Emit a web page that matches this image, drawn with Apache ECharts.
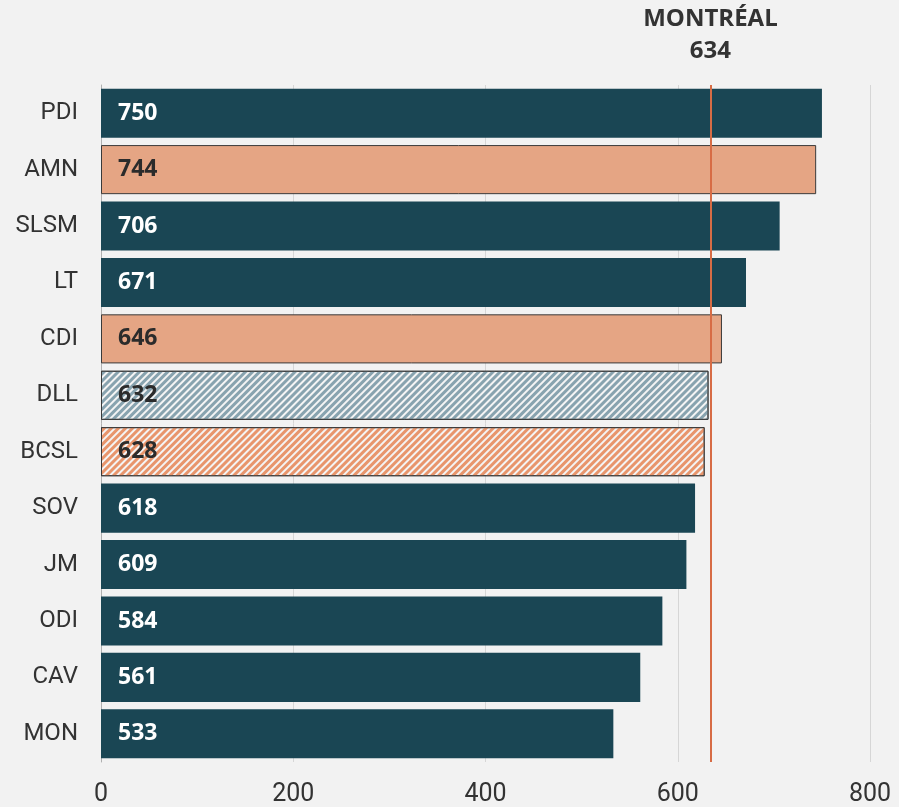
<!DOCTYPE html>
<html><head><meta charset="utf-8">
<script src="https://cdn.jsdelivr.net/npm/echarts@6/dist/echarts.min.js"></script>
<style>html,body{margin:0;padding:0;background:#f2f2f2}#c{width:899px;height:807px}</style>
</head><body><div id="c"></div>
<script>
const categories = ['PDI','AMN','SLSM','LT','CDI','DLL','BCSL','SOV','JM','ODI','CAV','MON'];
const values = [750,744,706,671,646,632,628,618,609,584,561,533];
const kinds = ['base','highlight','base','base','highlight','hatchBase','hatchHighlight','base','base','base','base','base'];
const refName = 'MONTRÉAL';
const refValue = 634;
const xTicks = [0,200,400,600,800];

const DARK = '#1a4654', SALMON = '#e5a584', BLUEGRAY = '#88a3af', SALMON_H = '#e8956c';
function styleFor(k){
  const decal = c => ({symbol:'rect', symbolSize:1, dashArrayX:[1,0], dashArrayY:[2.2,1.8], rotation:-Math.PI/4, color:c});
  switch(k){
    case 'highlight': return {item:{color:SALMON,borderColor:'#3a3a3a',borderWidth:1}, label:'#2b2b2b'};
    case 'hatchBase': return {item:{color:'#f4f4f4',borderColor:'#3a3a3a',borderWidth:1,decal:decal(BLUEGRAY)}, label:'#2b2b2b'};
    case 'hatchHighlight': return {item:{color:'#f4f4f4',borderColor:'#3a3a3a',borderWidth:1,decal:decal(SALMON_H)}, label:'#2b2b2b'};
    default: return {item:{color:DARK}, label:'#ffffff'};
  }
}
const data = values.map((v,i)=>{
  const s = styleFor(kinds[i]);
  return {value:v, itemStyle:s.item, label:{color:s.label}};
});
const chart = echarts.init(document.getElementById('c'), null, {renderer:'canvas'});
chart.setOption({
  backgroundColor:'#f2f2f2',
  animation:false,
  grid:{left:101, right:29, top:85, bottom:45, containLabel:false},
  xAxis:{type:'value', min:xTicks[0], max:xTicks[xTicks.length-1], interval:200,
    axisLine:{show:false}, axisTick:{show:false},
    splitLine:{lineStyle:{color:'#d6d6d6', width:1}},
    axisLabel:{fontFamily:'Roboto', fontSize:25, color:'#333', margin:20}},
  yAxis:{type:'category', data:categories, inverse:true,
    axisLine:{show:true, lineStyle:{color:'#b0b0b0'}}, axisTick:{show:false},
    axisLabel:{fontFamily:'Roboto', fontSize:24, color:'#333', margin:23}},
  series:[{type:'bar', data:data, barCategoryGap:'13%',
    label:{show:true, position:'insideLeft', distance:17, fontFamily:'Open Sans', fontWeight:'bold', fontSize:23},
    markLine:{symbol:'none', silent:true,
      lineStyle:{color:'#d76c45', width:2, type:'solid'},
      label:{show:true, position:'start', distance:18, formatter:refName+'\n'+refValue,
        fontFamily:'Open Sans', fontWeight:'bold', fontSize:24, lineHeight:32, color:'#333'},
      data:[{xAxis:refValue}]}
  }]
});
</script></body></html>
